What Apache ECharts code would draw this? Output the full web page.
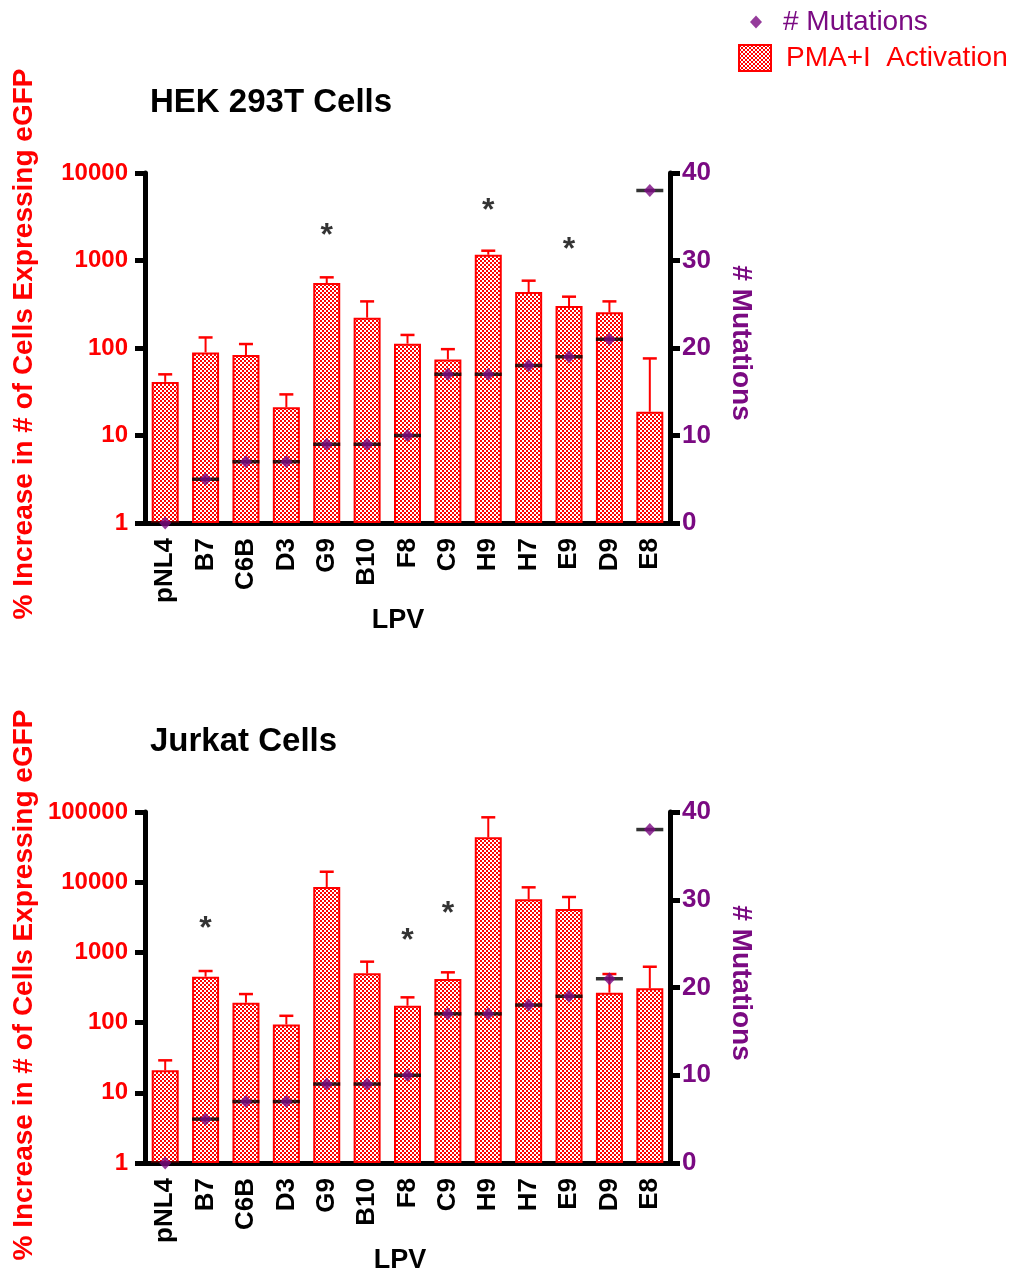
<!DOCTYPE html>
<html>
<head>
<meta charset="utf-8">
<script src="https://cdn.jsdelivr.net/npm/echarts@6/dist/echarts.min.js"></script>
<style>html,body{margin:0;padding:0;background:#fff}#c{width:1011px;height:1275px}</style>
</head>
<body>
<div id="c"></div>
<script>
// ---- data ----
var categories = ['pNL4','B7','C6B','D3','G9','B10','F8','C9','H9','H7','E9','D9','E8'];
var mutations = [0,5,7,7,9,9,10,17,17,18,19,21,38];
var hekValues = [41,89,83,21,553,222,112,74,1164,436,302,256,18.7];
var hekErrTop = [50,132,111,29.5,642,341,141,97,1294,588,386,341,76];
var jurkatValues = [21,451,192,94,8550,504,174,418,43600,5700,4150,267,308];
var jurkatErrTop = [29,543,255,125,14100,738,229,520,84000,8450,6150,492,625];
var hekSigCats = ['G9','H9','E9'];
var hekSigLevel = [2240,4300,1545];
var jurkatSigCats = ['B7','F8','C9'];
var jurkatSigLevel = [2620,1770,4290];
var hekTicks = [1,10,100,1000,10000];
var jurkatTicks = [1,10,100,1000,10000,100000];
var mutTicks = [0,10,20,30,40];

var FONT = '"Liberation Sans", Arial, sans-serif';
var RED = '#ff0000', PURPLE = '#7a0a82';

// checker pattern
var pc = document.createElement('canvas');
pc.width = 4; pc.height = 4;
var pctx = pc.getContext('2d');
pctx.fillStyle = '#ffffff'; pctx.fillRect(0,0,4,4);
pctx.fillStyle = RED; pctx.fillRect(0,0,2,2); pctx.fillRect(2,2,2,2);
var pattern = {image: pc, repeat: 'repeat'};

var grids = [
  {left:145, top:173, width:525, height:350},
  {left:145, top:812, width:525, height:351}
];

function xAxisDef(gi){
  return {
    type:'category', gridIndex:gi, data:categories, boundaryGap:true,
    axisLine:{lineStyle:{color:'#000', width:5}},
    axisTick:{alignWithLabel:true, length:10, lineStyle:{color:'#000', width:5}},
    axisLabel:{rotate:90, margin:15, color:'#000', fontFamily:FONT, fontWeight:'bold', fontSize:26}
  };
}
function logAxisDef(gi, ticks){
  return {
    type:'log', logBase:10, gridIndex:gi, min:ticks[0], max:ticks[ticks.length-1],
    splitNumber:ticks.length-1,
    axisLine:{show:true, lineStyle:{color:'#000', width:5}},
    axisTick:{show:true, length:10, lineStyle:{color:'#000', width:5}},
    minorTick:{show:false},
    splitLine:{show:false},
    axisLabel:{margin:17, color:RED, fontFamily:FONT, fontWeight:'bold', fontSize:24,
      formatter:function(v){ for (var i=0;i<ticks.length;i++){ if (Math.abs(ticks[i]-v)/ticks[i] < 1e-6) return String(ticks[i]); } return ''; }}
  };
}
function mutAxisDef(gi){
  return {
    type:'value', gridIndex:gi, position:'right', min:mutTicks[0], max:mutTicks[mutTicks.length-1], interval:10,
    axisLine:{show:true, lineStyle:{color:'#000', width:5}},
    axisTick:{show:true, length:10, lineStyle:{color:'#000', width:5}},
    splitLine:{show:false},
    axisLabel:{margin:12, color:PURPLE, fontFamily:FONT, fontWeight:'bold', fontSize:26}
  };
}

function errSeries(xi, yi, vals, errs){
  return {
    type:'custom', xAxisIndex:xi, yAxisIndex:yi, z:3,
    data: vals.map(function(v,i){ return [i, v, errs[i]]; }),
    renderItem:function(params, api){
      var p0 = api.coord([api.value(0), api.value(1)]);
      var p1 = api.coord([api.value(0), api.value(2)]);
      var hw = 7;
      return {type:'group', children:[
        {type:'line', shape:{x1:p0[0], y1:p0[1], x2:p1[0], y2:p1[1]}, style:{stroke:RED, lineWidth:2}},
        {type:'line', shape:{x1:p1[0]-hw, y1:p1[1], x2:p1[0]+hw, y2:p1[1]}, style:{stroke:RED, lineWidth:2.5}}
      ]};
    }
  };
}
function sigSeries(xi, yi, cats, levels){
  return {
    type:'scatter', xAxisIndex:xi, yAxisIndex:yi, symbolSize:1, z:6,
    itemStyle:{color:'rgba(0,0,0,0)'},
    data: cats.map(function(c,i){ return [c, levels[i]]; }),
    label:{show:true, position:'inside', formatter:'*', color:'#000', fontFamily:FONT, fontWeight:'bold', fontSize:32, offset:[0,6]},
    silent:true
  };
}
function chartSeries(gi, vals, errs, sigCats, sigLevels){
  var xi = gi, yLog = gi*2, yMut = gi*2+1;
  return [
    {type:'bar', name:'PMA+I  Activation', xAxisIndex:xi, yAxisIndex:yLog, data:vals, barWidth:27, z:2,
     itemStyle:{color:pattern, borderColor:RED, borderWidth:2}},
    errSeries(xi, yLog, vals, errs),
    {type:'scatter', name:'medianLine', xAxisIndex:xi, yAxisIndex:yMut, data:mutations, symbol:'rect', symbolSize:[27,3.5], z:4,
     itemStyle:{color:'#000'}, silent:true},
    {type:'scatter', name:'# Mutations', xAxisIndex:xi, yAxisIndex:yMut, data:mutations, symbol:'diamond', symbolSize:[12,13], z:5,
     itemStyle:{color:PURPLE}},
    sigSeries(xi, yLog, sigCats, sigLevels)
  ];
}

function vtext(x, y, txt, color, size, rot){
  return {type:'text', x:x, y:y, rotation:rot, style:{text:txt, fill:color, font:'bold '+size+'px '+FONT, textAlign:'center', textVerticalAlign:'middle'}};
}
function htext(x, y, txt, color, size, align){
  return {type:'text', x:x, y:y, style:{text:txt, fill:color, font:'bold '+size+'px '+FONT, textAlign:align||'left', textVerticalAlign:'middle'}};
}

var chart = echarts.init(document.getElementById('c'), null, {renderer:'canvas'});
chart.setOption({
  animation:false,
  backgroundColor:'#fff',
  grid:grids,
  xAxis:[xAxisDef(0), xAxisDef(1)],
  yAxis:[logAxisDef(0, hekTicks), mutAxisDef(0), logAxisDef(1, jurkatTicks), mutAxisDef(1)],
  legend:[
    {data:[{name:'# Mutations', textStyle:{color:PURPLE}}], left:750, top:8, padding:0, orient:'vertical', icon:'diamond',
     itemWidth:12, itemHeight:13, textStyle:{fontFamily:FONT, fontSize:28, lineHeight:28, padding:[0,0,0,16]}, selectedMode:false},
    {data:[{name:'PMA+I  Activation', textStyle:{color:RED}}], left:738, top:44, padding:0, orient:'vertical', icon:'rect',
     itemWidth:32, itemHeight:26, textStyle:{fontFamily:FONT, fontSize:28, lineHeight:28, padding:[0,0,0,10]}, selectedMode:false}
  ],
  graphic:[
    htext(150, 103, 'HEK 293T Cells', '#000', 33),
    htext(150, 742, 'Jurkat Cells', '#000', 33),
    vtext(24, 344, '% Increase in # of Cells Expressing eGFP', RED, 28, Math.PI/2),
    vtext(24, 985, '% Increase in # of Cells Expressing eGFP', RED, 28, Math.PI/2),
    vtext(741, 343, '# Mutations', PURPLE, 28, -Math.PI/2),
    vtext(741, 983, '# Mutations', PURPLE, 28, -Math.PI/2),
    htext(398, 621, 'LPV', '#000', 27, 'center'),
    htext(400, 1261, 'LPV', '#000', 27, 'center')
  ],
  series: chartSeries(0, hekValues, hekErrTop, hekSigCats, hekSigLevel)
    .concat(chartSeries(1, jurkatValues, jurkatErrTop, jurkatSigCats, jurkatSigLevel))
});
</script>
</body>
</html>
